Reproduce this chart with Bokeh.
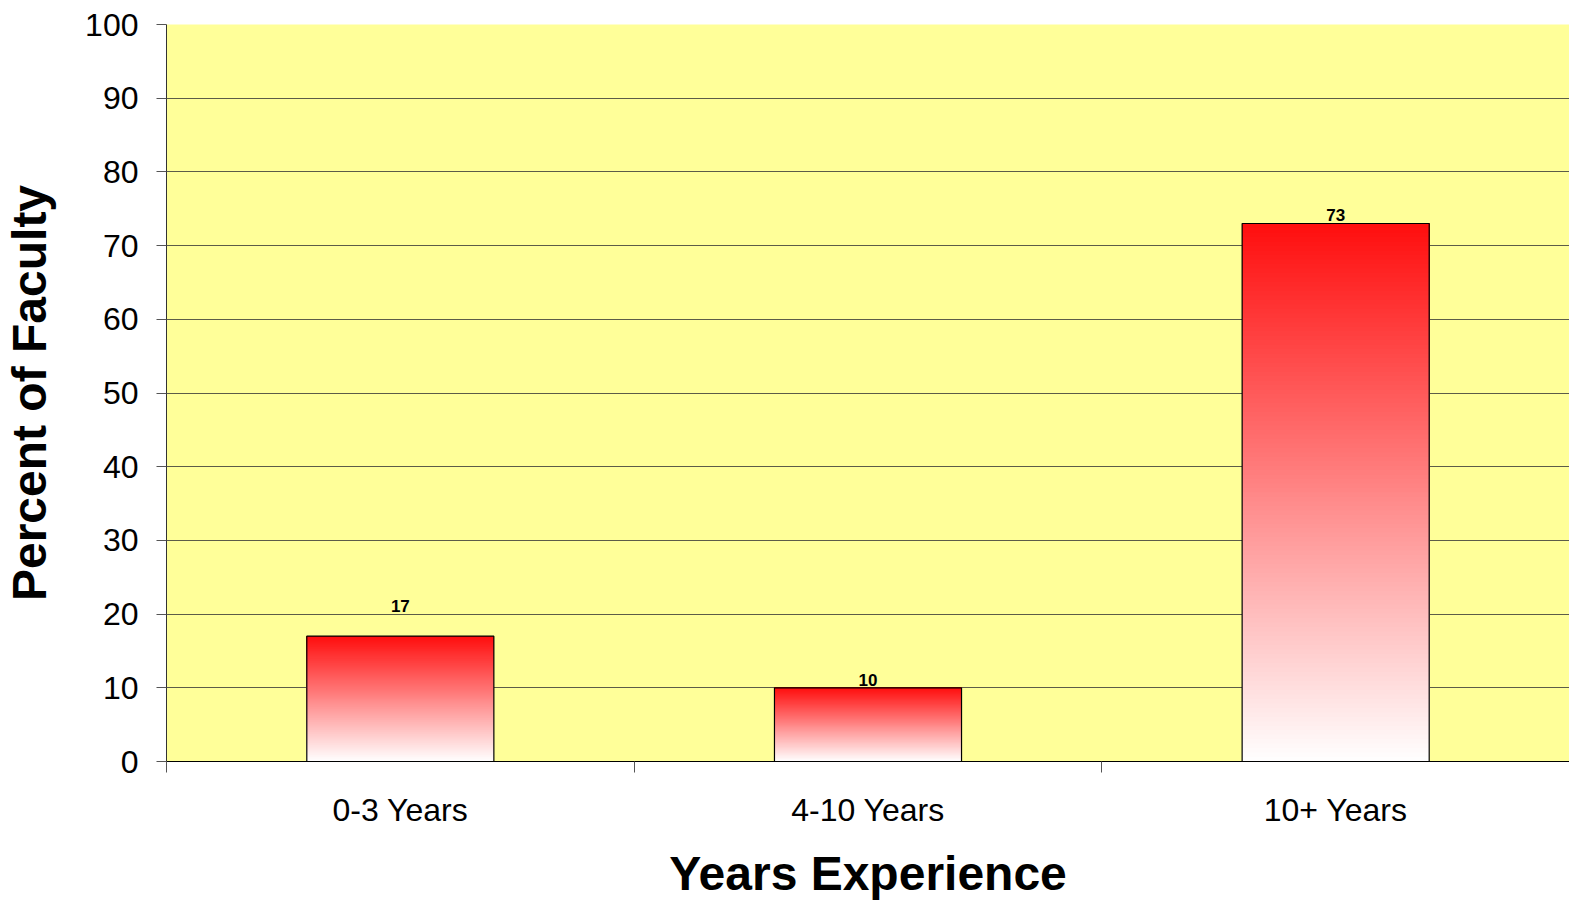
from bokeh.plotting import figure
from bokeh.models import Range1d, FixedTicker, ColumnDataSource
from bokeh.core.properties import value
from bokeh.embed import file_html
from bokeh.resources import INLINE

categories = ["0-3 Years", "4-10 Years", "10+ Years"]
percents = [17, 10, 73]
y_ticks = [0, 10, 20, 30, 40, 50, 60, 70, 80, 90, 100]

# styling
label_offsets = [-24, -2, -2]
FONT = "Liberation Sans"
BAR_W = 0.4
N_SLICES = 120
TOP_RGB = (255, 14, 14)
BOT_RGB = (255, 255, 255)

centers = [i + 0.5 for i in range(len(categories))]

p = figure(width=1569, height=902, output_backend="svg", toolbar_location=None,
           x_range=Range1d(0, len(categories)), y_range=Range1d(0, 100),
           min_border_left=155, min_border_right=0, min_border_top=24, min_border_bottom=120)

p.border_fill_color = "white"
p.outline_line_color = None
p.background_fill_color = "#FFFF99"

# gradient bars: overlapping slices, each from its start up to the bar top
lefts, rights, bottoms, tops, colors = [], [], [], [], []
for c, v in zip(centers, percents):
    for k in range(N_SLICES):
        t0 = k / N_SLICES
        tm = (k + 0.5) / N_SLICES
        r = round(BOT_RGB[0] + (TOP_RGB[0] - BOT_RGB[0]) * tm)
        g = round(BOT_RGB[1] + (TOP_RGB[1] - BOT_RGB[1]) * tm)
        b = round(BOT_RGB[2] + (TOP_RGB[2] - BOT_RGB[2]) * tm)
        lefts.append(c - BAR_W / 2)
        rights.append(c + BAR_W / 2)
        bottoms.append(v * t0)
        tops.append(v)
        colors.append("#%02x%02x%02x" % (r, g, b))

p.quad(left=lefts, right=rights, bottom=bottoms, top=tops, fill_color=colors, line_color=None)
p.vbar(x=centers, width=BAR_W, top=percents, bottom=0, fill_color=None,
       line_color="black", line_width=1.2)

src = ColumnDataSource(dict(x=centers, y=percents, t=[str(v) for v in percents], off=label_offsets))
p.text(x="x", y="y", text="t", y_offset="off", source=src, text_align="center",
       text_baseline="bottom", text_font=value(FONT), text_font_style="bold",
       text_font_size="17px", text_color="black")

# grid
p.xgrid.grid_line_color = None
p.ygrid.ticker = FixedTicker(ticks=y_ticks)
p.ygrid.grid_line_color = "#333333"
p.ygrid.grid_line_alpha = 0.8
p.ygrid.grid_line_width = 1

# y axis
p.yaxis.ticker = FixedTicker(ticks=y_ticks)
p.yaxis.axis_line_color = "#333333"
p.yaxis.major_tick_line_color = "#555555"
p.yaxis.major_tick_out = 10
p.yaxis.major_tick_in = 0
p.yaxis.minor_tick_line_color = None
p.yaxis.major_label_text_font = FONT
p.yaxis.major_label_text_font_size = "32px"
p.yaxis.major_label_text_color = "black"
p.yaxis.major_label_standoff = 18
p.yaxis.axis_label = "Percent of Faculty"
p.yaxis.axis_label_text_font = FONT
p.yaxis.axis_label_text_font_style = "bold"
p.yaxis.axis_label_text_font_size = "48px"
p.yaxis.axis_label_text_color = "black"
p.yaxis.axis_label_standoff = 26

# x axis
p.xaxis.ticker = FixedTicker(ticks=centers, minor_ticks=list(range(len(categories) + 1)))
p.xaxis.major_label_overrides = {c: name for c, name in zip(centers, categories)}
p.xaxis.axis_line_color = "black"
p.xaxis.axis_line_width = 1.2
p.xaxis.major_tick_line_color = None
p.xaxis.major_tick_out = 0
p.xaxis.major_tick_in = 0
p.xaxis.minor_tick_line_color = "#555555"
p.xaxis.minor_tick_out = 11
p.xaxis.minor_tick_in = 0
p.xaxis.major_label_text_font = FONT
p.xaxis.major_label_text_font_size = "32px"
p.xaxis.major_label_text_color = "black"
p.xaxis.major_label_standoff = 19
p.xaxis.axis_label = "Years Experience"
p.xaxis.axis_label_text_font = FONT
p.xaxis.axis_label_text_font_style = "bold"
p.xaxis.axis_label_text_font_size = "48px"
p.xaxis.axis_label_text_color = "black"
p.xaxis.axis_label_standoff = 16

open("out.html", "w").write(file_html(p, INLINE))
